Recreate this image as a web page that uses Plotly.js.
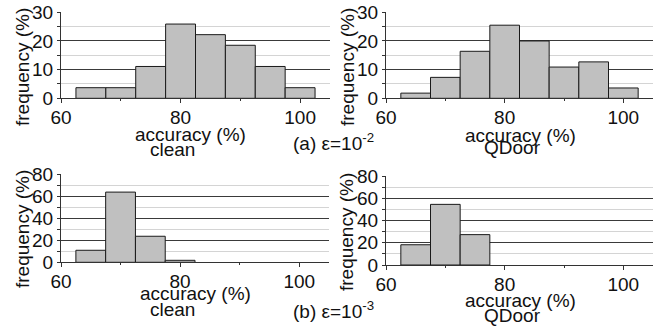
<!DOCTYPE html>
<html>
<head>
<meta charset="utf-8">
<script src="https://cdn.plot.ly/plotly-3.0.1.min.js"></script>
<style>html,body{margin:0;padding:0;background:#fff;}#chart{width:667px;height:331px;}</style>
</head>
<body>
<div id="chart"></div>
<script>
// Bin centres (accuracy %, bins of width 5)
const binsTop = [65, 70, 75, 80, 85, 90, 95, 100];
const binsBottomClean = [65, 70, 75, 80];
const binsBottomQDoor = [65, 70, 75];
// Frequencies (%)
const cleanE2 = [3.7, 3.7, 11.1, 25.9, 22.2, 18.5, 11.1, 3.7];
const qdoorE2 = [1.8, 7.3, 16.4, 25.5, 20.0, 10.9, 12.7, 3.6];
const cleanE3 = [10.9, 63.6, 23.6, 1.8];
const qdoorE3 = [18.2, 54.5, 27.3];
// Text
const xTitle = "accuracy (%)";
const yTitle = "frequency (%)";
const panelNames = ["clean", "QDoor", "clean", "QDoor"];
const captions = ["(a) ε=10<sup>-2</sup>", "(b) ε=10<sup>-3</sup>"];
const xTickVals = [60, 80, 100];

const W = 667, H = 331;
const px = v => v / W;
const py = v => (H - v) / H;

const font = "Liberation Sans, Arial, sans-serif";
const FS = 19;
const barStyle = {color: "#c0c0c0", line: {color: "#1a1a1a", width: 1}};

function bar(x, y, xa, ya) {
  return {type: "bar", x: x, y: y, width: 5, xaxis: xa, yaxis: ya,
          marker: barStyle, showlegend: false, hoverinfo: "x+y"};
}

const data = [
  bar(binsTop, cleanE2, "x", "y"),
  bar(binsTop, qdoorE2, "x2", "y2"),
  bar(binsBottomClean, cleanE3, "x3", "y3"),
  bar(binsBottomQDoor, qdoorE3, "x4", "y4")
];

function xaxis(domain, anchor) {
  return {
    domain: domain, anchor: anchor, range: [60, 105],
    tickvals: xTickVals, ticks: "outside", ticklen: 4, tickcolor: "#333",
    showgrid: false, zeroline: false, showline: true, linecolor: "#333", linewidth: 1,
    tickfont: {family: font, size: FS, color: "#111"},
    minor: {tickvals: [70, 90], ticks: "outside", ticklen: 2, tickcolor: "#333", showgrid: false},
    ticklabelstandoff: -2,
    fixedrange: true
  };
}
function yaxis(domain, anchor, max, dtick) {
  return {
    domain: domain, anchor: anchor, range: [0, max],
    dtick: dtick, tick0: 0, ticks: "outside", ticklen: 3, tickcolor: "#333",
    showgrid: true, gridcolor: "#3a3a3a", gridwidth: 1,
    zeroline: false, showline: true, linecolor: "#333", linewidth: 1,
    tickfont: {family: font, size: FS, color: "#111"},
    minor: {dtick: dtick / 2, tick0: 0, ticks: "outside", ticklen: 3, tickcolor: "#333",
            showgrid: true, gridcolor: "#d4d4d4", gridwidth: 1},
    ticklabelstandoff: 0,
    fixedrange: true
  };
}

const layout = {
  width: W, height: H,
  margin: {l: 0, r: 0, t: 0, b: 0},
  paper_bgcolor: "#fff", plot_bgcolor: "#fff",
  font: {family: font, size: FS, color: "#111"},
  bargap: 0,
  xaxis: xaxis([px(61), px(330)], "y"),
  yaxis: yaxis([py(98.3), py(12.3)], "x", 30, 10),
  xaxis2: xaxis([px(386), px(653)], "y2"),
  yaxis2: yaxis([py(98.3), py(12.3)], "x2", 30, 10),
  xaxis3: xaxis([px(61), px(329)], "y3"),
  yaxis3: yaxis([py(262.3), py(174)], "x3", 80, 20),
  xaxis4: xaxis([px(386), px(653)], "y4"),
  yaxis4: yaxis([py(265), py(176)], "x4", 80, 20),
  annotations: [
    {text: yTitle, textangle: -90, x: px(22), y: py(67)},
    {text: yTitle, textangle: -90, x: px(347), y: py(67)},
    {text: yTitle, textangle: -90, x: px(22), y: py(229)},
    {text: yTitle, textangle: -90, x: px(347), y: py(232)},
    {text: xTitle, x: px(190), y: py(134)},
    {text: xTitle, x: px(520), y: py(135)},
    {text: xTitle, x: px(195), y: py(293)},
    {text: xTitle, x: px(520), y: py(300)},
    {text: panelNames[0], x: px(172), y: py(149)},
    {text: panelNames[1], x: px(512), y: py(147)},
    {text: panelNames[2], x: px(172), y: py(309)},
    {text: panelNames[3], x: px(512), y: py(315)},
    {text: captions[0], x: px(333), y: py(142)},
    {text: captions[1], x: px(333), y: py(310)}
  ].map(a => Object.assign({xref: "paper", yref: "paper", showarrow: false,
    xanchor: "center", yanchor: "middle", font: {family: font, size: FS, color: "#111"}}, a))
};

Plotly.newPlot("chart", data, layout, {staticPlot: true, displayModeBar: false});
</script>
</body>
</html>
